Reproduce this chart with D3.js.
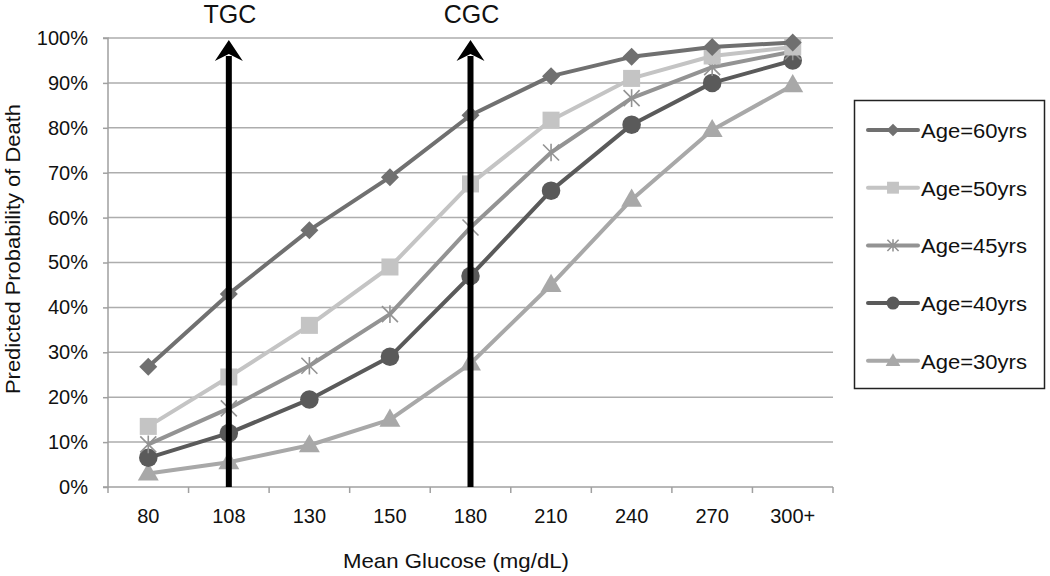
<!DOCTYPE html>
<html><head><meta charset="utf-8">
<script src="https://cdn.jsdelivr.net/npm/d3@7"></script>
<style>body{margin:0;background:#fff;} text{font-family:"Liberation Sans",Arial,sans-serif;}</style>
</head><body><svg id="c" width="1050" height="576"></svg>
<script>
const categories = ["80","108","130","150","180","210","240","270","300+"];
const age60 = [26.8,43,57.2,69,82.8,91.5,95.8,98,99];
const age50 = [13.5,24.5,36,49,67.5,81.7,91,96,98];
const age45 = [9.5,17.5,27,38.5,57.8,74.5,86.6,93.5,97];
const age40 = [6.5,12,19.5,29,47,66,80.7,90,95];
const age30 = [3,5.5,9.3,15,27.5,45,64,79.5,89.5];
const yTicks = [0,10,20,30,40,50,60,70,80,90,100];
const seriesNames = ["Age=60yrs","Age=50yrs","Age=45yrs","Age=40yrs","Age=30yrs"];
const arrowCats = ["108","180"];
const arrowLabels = ["TGC","CGC"];

const series = [
  {name:seriesNames[0], values:age60, color:"#707070", sym:"diamond"},
  {name:seriesNames[1], values:age50, color:"#c4c4c4", sym:"square"},
  {name:seriesNames[2], values:age45, color:"#939393", sym:"star"},
  {name:seriesNames[3], values:age40, color:"#5a5a5a", sym:"circle"},
  {name:seriesNames[4], values:age30, color:"#a8a8a8", sym:"triangle"}
];

const svg = d3.select("#c");
const L=108, R=833, T=38, B=487;
const x = d3.scaleBand().domain(categories).range([L,R]);
const y = d3.scaleLinear().domain([0,100]).range([B,T]);

// gridlines
svg.append("g").selectAll("line").data(yTicks.filter(d=>d>0)).join("line")
  .attr("x1",L).attr("x2",R).attr("y1",d=>y(d)).attr("y2",d=>y(d))
  .attr("stroke","#adadad").attr("stroke-width",1.5);

// y axis
const ya = svg.append("g").attr("transform",`translate(${L},0)`)
  .call(d3.axisLeft(y).tickValues(yTicks).tickFormat(d=>d+"%").tickSize(5).tickPadding(15));
ya.select(".domain").attr("stroke","#a0a0a0").attr("stroke-width",1.5).attr("d",`M-5,${T}H0V${B}H-5`);
ya.selectAll(".tick line").attr("stroke","#a0a0a0").attr("stroke-width",1.5);
ya.selectAll("text").attr("font-size",20).attr("fill","#111").style("font-family","Liberation Sans, Arial, sans-serif");

// x axis
const xa = svg.append("g").attr("transform",`translate(0,${B})`);
xa.append("line").attr("x1",L).attr("x2",R).attr("y1",0).attr("y2",0).attr("stroke","#a0a0a0").attr("stroke-width",1.5);
const bounds = categories.map(c=>x(c)).concat([R]);
xa.selectAll("line.tk").data(bounds).join("line").attr("class","tk")
  .attr("x1",d=>d).attr("x2",d=>d).attr("y1",0).attr("y2",6).attr("stroke","#a0a0a0").attr("stroke-width",1.5);
xa.selectAll("text").data(categories).join("text")
  .attr("x",d=>x(d)+x.bandwidth()/2).attr("y",36).attr("text-anchor","middle")
  .attr("font-size",20).attr("fill","#111").text(d=>d);

// axis titles
svg.append("text").attr("transform",`translate(20,249) rotate(-90)`).attr("text-anchor","middle")
  .attr("font-size",20.5).attr("fill","#111").attr("textLength",290).attr("lengthAdjust","spacingAndGlyphs").text("Predicted Probability of Death");
svg.append("text").attr("x",456).attr("y",568).attr("text-anchor","middle")
  .attr("font-size",21).attr("fill","#111").attr("textLength",226).attr("lengthAdjust","spacingAndGlyphs").text("Mean Glucose (mg/dL)");

const cx = c => x(c)+x.bandwidth()/2;
const line = d3.line().x((d,i)=>cx(categories[i])).y(d=>y(d));

function marker(g, s, px, py, scale){
  const c = s.color;
  if(s.sym==="diamond"){
    const r=9*scale;
    g.append("path").attr("d",`M0,${-r}L${r},0L0,${r}L${-r},0Z`).attr("transform",`translate(${px},${py})`).attr("fill",c);
  } else if(s.sym==="square"){
    g.append("path").attr("d",d3.symbol(d3.symbolSquare,290*scale*scale)()).attr("transform",`translate(${px},${py})`).attr("fill",c);
  } else if(s.sym==="circle"){
    g.append("path").attr("d",d3.symbol(d3.symbolCircle,270*scale*scale)()).attr("transform",`translate(${px},${py})`).attr("fill",c);
  } else if(s.sym==="triangle"){
    g.append("path").attr("d",d3.symbol(d3.symbolTriangle,190*scale*scale)()).attr("transform",`translate(${px},${py+1})`).attr("fill",c);
  } else if(s.sym==="star"){
    const r=8*scale;
    g.append("path").attr("d",`M${-r},${-r}L${r},${r}M${-r},${r}L${r},${-r}M0,${-r*1.1}V${r*1.1}`)
      .attr("transform",`translate(${px},${py})`).attr("stroke",c).attr("stroke-width",1.6).attr("fill","none");
  }
}

// series
const sg = svg.append("g");
series.slice().reverse().forEach(s=>{
  const g = sg.append("g");
  g.append("path").datum(s.values).attr("d",line).attr("fill","none").attr("stroke",s.color).attr("stroke-width",4).attr("stroke-linejoin","round");
  s.values.forEach((v,i)=>marker(g,s,cx(categories[i]),y(v),1));
});

// arrows
arrowCats.forEach((c,i)=>{
  const px = cx(c);
  const g = svg.append("g");
  g.append("line").attr("x1",px).attr("x2",px).attr("y1",B).attr("y2",y(96)).attr("stroke","#000").attr("stroke-width",6);
  const tip = 40;
  g.append("path").attr("d",`M${px},${tip}L${px+14},${tip+21}L${px},${tip+14}L${px-14},${tip+21}Z`).attr("fill","#000");
  g.append("text").attr("x",px+1).attr("y",23).attr("text-anchor","middle").attr("font-size",25).attr("fill","#111").text(arrowLabels[i]);
});

// legend
const lg = svg.append("g");
lg.append("rect").attr("x",854.5).attr("y",100.5).attr("width",190).attr("height",288).attr("fill","#fff").attr("stroke","#222").attr("stroke-width",1.5);
series.forEach((s,i)=>{
  const ly = 130 + i*57.7;
  lg.append("line").attr("x1",868).attr("x2",918).attr("y1",ly).attr("y2",ly).attr("stroke",s.color).attr("stroke-width",4).attr("stroke-linecap","round");
  marker(lg,s,893,ly,0.7);
  lg.append("text").attr("x",921).attr("y",ly+8).attr("font-size",19.5).attr("fill","#111")
    .attr("textLength",106).attr("lengthAdjust","spacingAndGlyphs").text(s.name);
});
</script></body></html>
